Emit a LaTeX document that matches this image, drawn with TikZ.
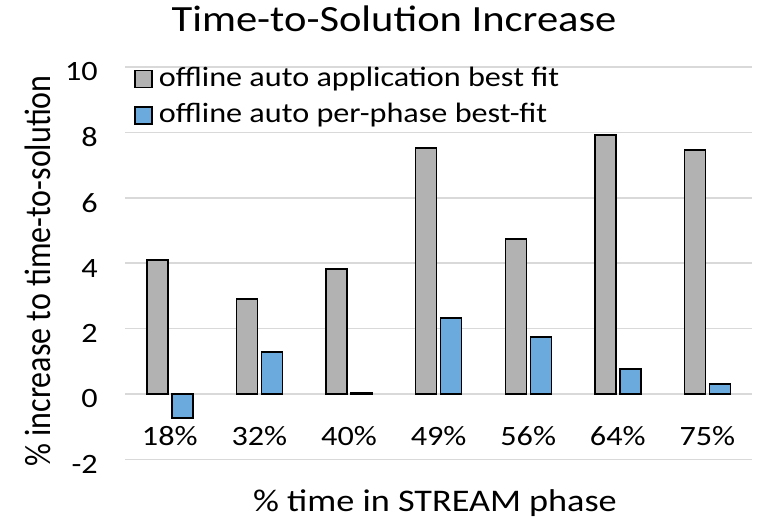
\documentclass[tikz,border=0pt]{standalone}
\usepackage{fontspec}
\setmainfont[FakeStretch=1.15]{Carlito}
\newfontfamily\plainfont{Carlito}
\usepackage{tikz}
\usetikzlibrary {positioning}

\begin{document}
\begin{tikzpicture}
	[x=1pt,y=1pt,
	 grid/.style={draw=black!15,line width=1.5pt},
	 bar/.style={draw=black,line width=1.4pt},
	 app/.style={bar,fill=black!30},
	 phase/.style={bar,fill=blueA},
	 tick/.style={font=\fontsize{28}{28}\selectfont,anchor=east,inner sep=0pt},
	 cat/.style={font=\fontsize{28}{28}\selectfont,inner sep=0pt},
	 legend/.style={font=\fontsize{28}{28}\selectfont,anchor=west,inner sep=0pt},
	 key/.style={bar,minimum size=17pt,inner sep=0pt}]
	\definecolor{blueA}{HTML}{6AAADC}
	\useasboundingbox (0,0) rectangle (762,520);
	% grid and y ticks
	\foreach \v in {-2,0,...,10}
		{\draw[grid] (125,126+32.7*\v) -- (752,126+32.7*\v);
		 \node[tick] (tick\v) at (98,121+32.7*\v) {\v};}
	% bars
	\foreach \i/\lab/\a/\b in {1/18/4.1/-0.73,2/32/2.9/1.28,3/40/3.82/0.05,4/49/7.52/2.32,
		5/56/4.74/1.74,6/64/7.92/0.77,7/75/7.46/0.3}
		{\pgfmathsetmacro{\c}{125+89.6*(\i-0.5)}
		 \draw[app] (\c-23,126) rectangle (\c-2,126+32.7*\a);
		 \draw[phase] (\c+2,126) rectangle (\c+23,126+32.7*\b);
		 \node[cat] (cat\i) at (\c,84) {\lab\%};}
	% titles
	\node[font=\fontsize{37}{37}\selectfont,anchor=base,inner sep=0pt] (title) at (394,488) {Time-to-Solution Increase};
	\node[font=\fontsize{31.5}{31.5}\selectfont,anchor=base,inner sep=0pt] (xlab) at (435,9) {\% time in STREAM phase};
	\node[font=\plainfont\fontsize{32}{32}\selectfont,rotate=90,anchor=base,inner sep=0pt] (ylab) at (50,249)
		{\scalebox{1}[1.15]{\% increase to time-to-solution}};
	% legend
	\node[key,fill=black!30] (key1) at (143.5,441) {};
	\node[legend] (leg1) [right=6pt of key1] {offline auto application best fit};
	\node[key,fill=blueA] (key2) at (143.5,404.5) {};
	\node[legend] (leg2) [right=6pt of key2] {offline auto per-phase best-fit};
\end{tikzpicture}
\end{document}
